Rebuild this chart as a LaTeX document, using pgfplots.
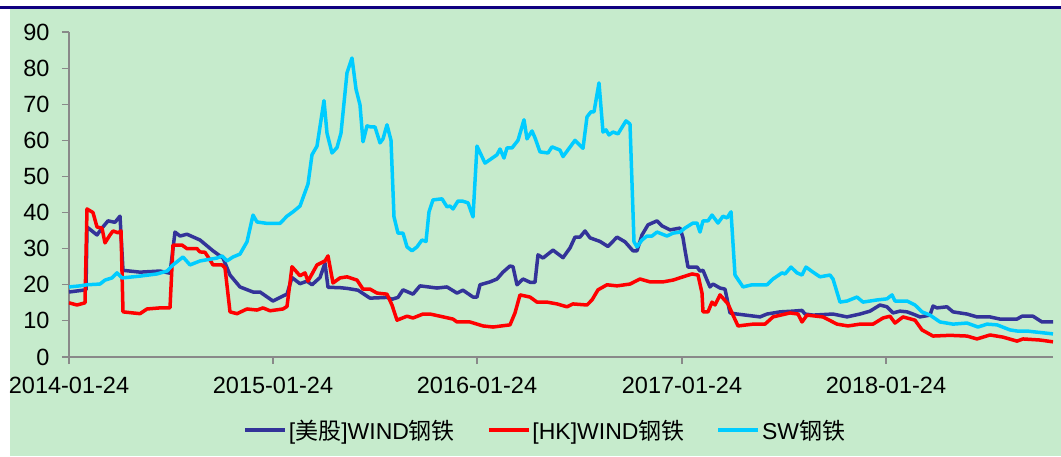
\documentclass[border=0pt]{standalone}
\usepackage{pgfplots}
\pgfplotsset{compat=1.18}
\usepackage{fontspec}
\setmainfont{Liberation Sans}
\newfontfamily\cjk{Noto Sans CJK SC}
\definecolor{bg}{RGB}{198,235,204}
\definecolor{topline}{RGB}{16,0,128}
\definecolor{usc}{RGB}{51,51,153}
\definecolor{hkc}{RGB}{255,0,0}
\definecolor{swc}{RGB}{0,204,255}
\definecolor{axc}{RGB}{137,137,137}
\begin{document}
\begin{tikzpicture}
\useasboundingbox (0,0) rectangle (1061pt,456pt);
\fill[white] (0,0) rectangle (1061pt,456pt);
\fill[bg] (10pt,0) rectangle (1061pt,447pt);
\fill[topline] (0,447pt) rectangle (1061pt,450pt);
\begin{axis}[
  at={(69pt,99pt)}, anchor=south west,
  scale only axis, width=984pt, height=325pt,
  xmin=69, xmax=1053, ymin=0, ymax=90,
  axis x line*=bottom, axis y line*=left,
  axis line style={-, draw=axc, line width=1.2pt},
  tick style={draw=axc, line width=1.2pt},
  tick align=outside, major tick length=7pt,
  xtick={69,273,477,682,886},
  xticklabels={2014-01-24,2015-01-24,2016-01-24,2017-01-24,2018-01-24},
  ytick={0,10,...,90},
  /pgf/number format/assume math mode=true,
  ticklabel style={font=\fontsize{23.5}{26}\selectfont},
  yticklabel style={xshift=-9pt},
  xticklabel style={yshift=-10pt},
  legend columns=3,
  legend style={at={(0.484,-0.225)}, anchor=center, draw=none, fill=none,
    font=\fontsize{23}{26}\selectfont, /tikz/every even column/.append style={column sep=30pt}},
  legend image code/.code={\draw[#1,line width=3.5pt] (0pt,0pt) -- (40pt,0pt);},
  every axis plot/.append style={line width=3.5pt, line join=round, mark=none},
]
\addplot[usc] coordinates {
(69,18.0)(83,18.5)(86,18.6)(87,36)(97,33.8)(102,35.7)(108,37.7)(115,37.3)(120,39)(123,24)
(140,23.5)(160,23.8)(170,23.2)(175,34.6)(180,33.5)(187,34)(200,32.4)(213,29.4)(223,27.4)(230,22.7)
(240,19.4)(253,18)(260,18)(273,15.5)(283,16.9)(287,17.4)(292,22)(300,20.3)(307,21)(312,20)
(320,22)(325,26)(328,19.3)(340,19.2)(347,19)(358,18.5)(370,16.3)(387,16.5)(392,16)(398,16.5)
(403,18.6)(413,17.4)(420,19.7)(437,19.1)(447,19.4)(457,17.7)(463,18.5)(473,16.6)(477,16.6)(480,20)
(490,20.8)(497,21.6)(503,23.5)(510,25.2)(513,25)(517,20)(523,21.6)(530,20.7)(535,20.7)(538,28.3)
(543,27.4)(553,29.6)(563,27.5)(570,30.2)(575,33.2)(580,33.2)(585,34.9)(590,33)(600,32)(608,30.6)
(617,33.2)(625,31.9)(633,29.4)(637,29.4)(642,33.8)(648,36.6)(657,37.7)(662,36.3)(670,35.2)(680,35.7)
(683,33)(685,29.6)(688,24.9)(697,24.9)(700,23.8)(703,24)(707,21.3)(710,19.4)(713,20.2)(720,19.1)
(725,18.8)(730,12.2)(737,11.9)(760,11.1)(767,11.9)(780,12.5)(793,12.7)(802,12.9)(805,11.9)(813,11.6)
(833,11.9)(847,11.1)(860,11.9)(870,12.7)(880,14.4)(887,13.9)(893,12.2)(900,12.7)(907,12.5)(913,11.9)
(920,11.1)(930,11.6)(933,14.1)(937,13.6)(947,13.9)(953,12.5)(967,11.9)(977,11.1)(990,11.1)(1000,10.5)
(1017,10.5)(1022,11.3)(1033,11.3)(1042,9.7)(1053,9.7)
};
\addlegendentry{{[}{\cjk 美股}{]}WIND{\cjk 钢铁}}
\addplot[hkc] coordinates {
(69,15)(77,14.4)(85,15)(87,41)(93,40)(97,36)(102,35.7)(105,31.6)(110,33.8)(113,34.9)
(118,34.4)(121,34.9)(123,12.5)(133,12.2)(140,12)(147,13.3)(160,13.6)(170,13.6)(173,31)(182,31)
(187,30)(197,30)(200,29.1)(205,29)(210,26.9)(213,25.5)(222,25.5)(225,24.7)(230,12.5)(237,12)
(247,13.3)(257,13)(263,13.6)(270,12.8)(283,13.3)(287,14)(292,25)(300,22.5)(305,23.3)(308,21)
(317,25.5)(325,26.6)(328,28)(333,20.5)(340,21.9)(347,22.2)(357,21.3)(363,18.8)(370,18.8)(377,17.7)
(387,17.4)(392,14.4)(397,10.2)(407,11.3)(413,10.8)(423,11.9)(430,11.9)(440,11.3)(453,10.5)(457,9.7)
(470,9.7)(483,8.6)(493,8.3)(510,8.9)(515,12.2)(520,17.2)(530,16.6)(537,15.2)(547,15.2)(557,14.7)
(567,13.9)(573,14.7)(587,14.4)(592,15.8)(598,18.6)(607,20)(617,19.7)(630,20.2)(640,21.6)(650,20.8)
(663,20.8)(673,21.3)(683,22.2)(692,23)(698,22.7)(702,17.7)(703,12.5)(708,12.5)(712,15.2)(715,14.4)
(720,17.2)(728,14.7)(733,11.6)(738,8.6)(753,9.1)(765,9.1)(773,11.1)(790,12.2)(798,11.9)(802,9.7)
(807,11.6)(823,11.1)(837,9.1)(848,8.6)(860,9.1)(873,9.1)(883,10.8)(890,11.3)(895,9.4)(903,11.1)
(915,10.2)(922,7.5)(933,5.8)(950,6)(967,5.8)(977,5)(990,6.1)(1003,5.5)(1017,4.4)(1023,5)
(1040,4.7)(1053,4.2)
};
\addlegendentry{[HK]WIND{\cjk 钢铁}}
\addplot[swc] coordinates {
(69,19.4)(80,19.7)(87,20)(100,20.2)(105,21.3)(112,21.9)(117,23.3)(122,21.9)(140,22.4)(157,23)
(167,23.8)(173,25.5)(183,27.7)(190,25.5)(200,26.6)(217,27.4)(222,28)(227,26.6)(233,27.7)(240,28.5)
(247,31.9)(253,39.3)(257,37.4)(267,37)(280,37)(287,39)(293,40.2)(300,41.8)(308,47.9)(312,56)
(317,58.4)(324,71)(327,62)(332,56.5)(337,58)(341,62)(347,78.7)(352,82.8)(356,74.2)(360,69.8)
(363,59.6)(367,64)(371,63.7)(375,63.7)(380,59.3)(383,60.4)(387,64.3)(391,60)(394,38.8)(398,34.3)
(403,34.3)(407,30.5)(412,29.4)(417,30.5)(422,32.4)(426,32)(429,40.2)(433,43.5)(442,43.8)(447,41.6)
(450,41.8)(453,41)(458,43.2)(462,43.2)(468,42.7)(473,38.8)(477,58.4)(485,53.7)(497,56)(500,57.6)
(504,55.1)(507,57.9)(512,57.9)(518,60)(524,65.7)(527,60.4)(532,62.6)(535,60.7)(540,56.8)(548,56.5)
(552,58.2)(560,57.3)(563,55.5)(575,60)(583,57.8)(587,66.5)(591,67.9)(594,67.9)(599,75.9)(603,62.3)
(606,62.9)(609,61.5)(613,62.3)(618,61.8)(626,65.4)(630,64.5)(634,31.9)(637,30.5)(642,32.4)(647,33.5)
(652,33.5)(657,34.6)(667,33.5)(673,34.3)(680,34.6)(685,35.7)(693,37.1)(697,37.1)(700,34.6)(703,37.7)
(708,37.7)(712,39.3)(718,37.1)(723,39)(727,38.5)(731,40.2)(735,22.7)(743,19.4)(752,20)(767,20)
(773,21.6)(782,23.3)(785,23)(791,24.9)(797,23.3)(802,22.7)(806,24.9)(813,23.5)(820,22.2)(830,22.7)
(833,21.6)(840,15.2)(847,15.5)(857,16.6)(863,15.2)(877,15.8)(887,16.1)(892,17.2)(895,15.5)(907,15.5)
(915,14.4)(922,12.5)(930,11.6)(940,9.7)(953,9.1)(967,9.4)(978,8.3)(987,9.1)(997,8.9)(1010,7.5)
(1017,7.2)(1027,7.2)(1033,7)(1053,6.4)
};
\addlegendentry{SW{\cjk 钢铁}}
\end{axis}
\end{tikzpicture}
\end{document}
